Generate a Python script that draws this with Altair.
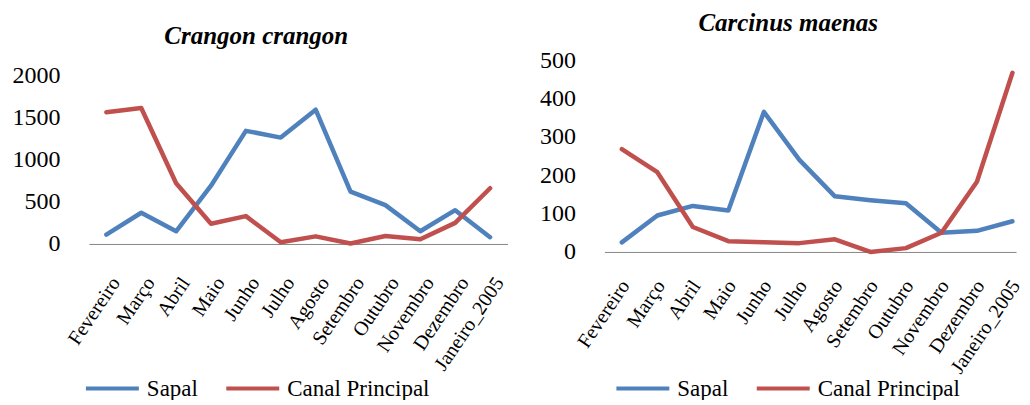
import altair as alt
import pandas as pd

months = ["Fevereiro", "Março", "Abril", "Maio", "Junho", "Julho", "Agosto",
          "Setembro", "Outubro", "Novembro", "Dezembro", "Janeiro_2005"]
series_names = ["Sapal", "Canal Principal"]
colors = ["#4F81BD", "#C0504D"]

crangon_sapal = [110, 370, 150, 690, 1340, 1260, 1590, 620, 460, 150, 400, 80]
crangon_canal = [1560, 1610, 720, 240, 330, 20, 90, 5, 95, 55, 250, 660]
carcinus_sapal = [25, 95, 120, 108, 365, 240, 145, 135, 127, 50, 55, 80]
carcinus_canal = [268, 208, 65, 28, 25, 23, 33, 0, 10, 50, 183, 467]

crangon_ticks = [0, 500, 1000, 1500, 2000]
carcinus_ticks = [0, 100, 200, 300, 400, 500]

FONT = "Liberation Serif, Times New Roman, Times, DejaVu Serif, serif"
label_expr = "[" + ",".join("'" + m + "'" for m in months) + "][datum.value]"


def panel(title, sapal, canal, ydomain, yticks, width, height, xdomain,
          title_offset, title_dx, legend_x, legend_y, lab_pad, lab_off):
    n = len(months)
    df = pd.DataFrame({
        "idx": list(range(n)) * 2,
        "month": months * 2,
        "series": [series_names[0]] * n + [series_names[1]] * n,
        "value": sapal + canal,
    })
    return alt.Chart(df).mark_line(
        strokeWidth=4.5, strokeCap="round", strokeJoin="round"
    ).encode(
        x=alt.X("idx:Q",
                scale=alt.Scale(domain=xdomain, nice=False, zero=False),
                axis=alt.Axis(values=list(range(n)), labelExpr=label_expr,
                              title=None, ticks=False, grid=False,
                              domainColor="#868686", domainWidth=1,
                              labelAngle=304, labelAlign="right",
                              labelBaseline="middle", labelPadding=lab_pad,
                              labelOffset=lab_off,
                              labelFont=FONT, labelFontSize=20,
                              labelColor="black", labelOverlap=False,
                              labelFlush=False, labelLimit=0)),
        y=alt.Y("value:Q",
                scale=alt.Scale(domain=ydomain, nice=False, zero=True),
                axis=alt.Axis(values=yticks, format="d", title=None,
                              ticks=False, grid=False, domain=False,
                              labelPadding=29,
                              labelFont=FONT, labelFontSize=24,
                              labelColor="black", labelFlush=False,
                              labelOverlap=False)),
        color=alt.Color("series:N",
                        scale=alt.Scale(domain=series_names, range=colors),
                        legend=alt.Legend(title=None, orient="none",
                                          legendX=legend_x, legendY=legend_y,
                                          direction="horizontal",
                                          symbolType="stroke",
                                          symbolSize=2809,
                                          symbolStrokeWidth=4,
                                          labelFont=FONT, labelFontSize=23,
                                          labelColor="black", labelOffset=6,
                                          columnPadding=19.5, labelLimit=0)),
    ).properties(
        width=width, height=height,
        title=alt.TitleParams(title, font=FONT, fontSize=25,
                              fontStyle="italic", fontWeight="bold",
                              color="black", anchor="middle",
                              offset=title_offset, dx=title_dx),
    )


left = panel("Crangon crangon", crangon_sapal, crangon_canal,
             [0, 2177.5], crangon_ticks, 419, 184, [-0.5, 11.5],
             11, -42, -5, 300, 35, 9)
right = panel("Carcinus maenas", carcinus_sapal, carcinus_canal,
              [0, 500], carcinus_ticks, 412, 192, [-0.49, 11.1],
              12, -22, 10, 300, 30, 3)

chart = alt.hconcat(left, right, spacing=97, bounds="flush").resolve_scale(
    color="independent", y="independent", x="independent"
).resolve_legend(color="independent").properties(
    padding={"left": 4, "top": 3, "right": -2, "bottom": -1}
).configure_view(stroke=None)

chart.save("out.html", embed_options={"renderer": "svg", "actions": False})
